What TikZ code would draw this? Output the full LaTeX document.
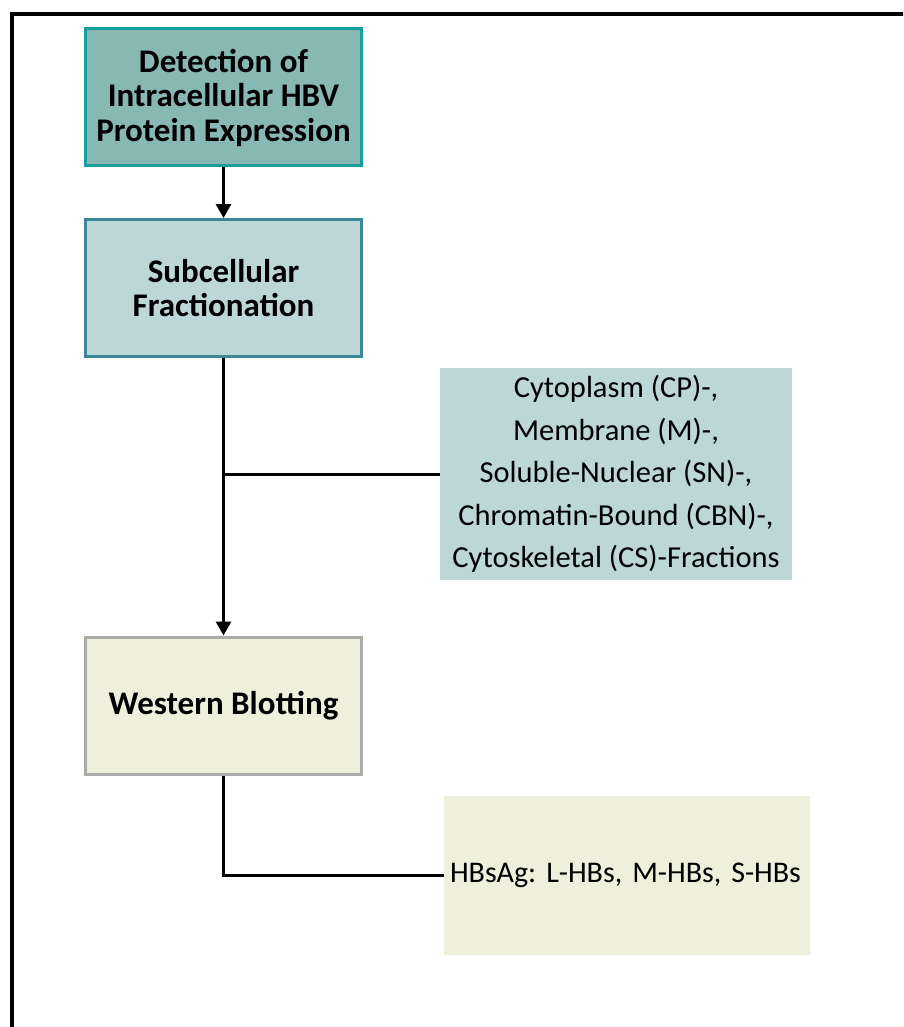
\documentclass[tikz,border=0pt]{standalone}
\usepackage{fontspec}
\setmainfont{Carlito}
\usetikzlibrary{arrows.meta}

\definecolor{topfill}{HTML}{88B8B4}
\definecolor{topline}{HTML}{17A09B}
\definecolor{fracfill}{HTML}{BDD7D6}
\definecolor{fracline}{HTML}{3A8893}
\definecolor{blotfill}{HTML}{EEF0DC}
\definecolor{blotline}{HTML}{ABABA8}

\tikzset{
  stepbox/.style={draw, line width=3pt, minimum width=276pt, minimum height=137pt,
    align=center, font=\fontsize{33}{34.5}\selectfont\bfseries},
  infobox/.style={inner sep=6pt, font=\fontsize{30.5}{42.5}\selectfont\frenchspacing},
  link/.style={line width=3pt},
  arrow/.style={link, -{Triangle[width=15pt,length=14pt]}}
}

\begin{document}
\begin{tikzpicture}[x=1pt,y=-1pt]
                \useasboundingbox (0,0) rectangle (903,1027);
                \clip (0,0) rectangle (903,1027);
                \draw[line width=3.5pt] (12,1040) -- (12,14) -- (910,14);
                % main steps
                \node[stepbox, fill=topfill, draw=topline] (detect) at (223.5,97.5) {Detection of\\Intracellular HBV\\Protein Expression};
                \node[stepbox, fill=fracfill, draw=fracline] (frac) at (223.5,288) {Subcellular\\Fractionation};
                \node[stepbox, fill=blotfill, draw=blotline] (blot) at (223.5,705.5) {Western Blotting};
                % side notes
                \node[infobox, fill=fracfill, minimum width=352pt, minimum height=212pt, align=center] (fracs) at (616,474)
                    {Cytoplasm (CP)-,\\Membrane (M)-,\\Soluble-Nuclear (SN)-,\\Chromatin-Bound (CBN)-,\\Cytoskeletal (CS)-Fractions};
                \node[infobox, fill=blotfill, font=\fontsize{30}{34}\selectfont\frenchspacing, text width=354pt, minimum height=159pt, align=left] (hbs) at (627,875.5)
                    {HBsAg: L-HBs, M-HBs, S-HBs};
                % connectors
                \draw[arrow] (detect) -- (frac);
                \draw[arrow] (frac) -- (blot);
                \draw[link] (frac.south |- fracs.west) -- (fracs.west);
                \draw[link] (blot.south) |- (hbs.west);
            \end{tikzpicture}
\end{document}
